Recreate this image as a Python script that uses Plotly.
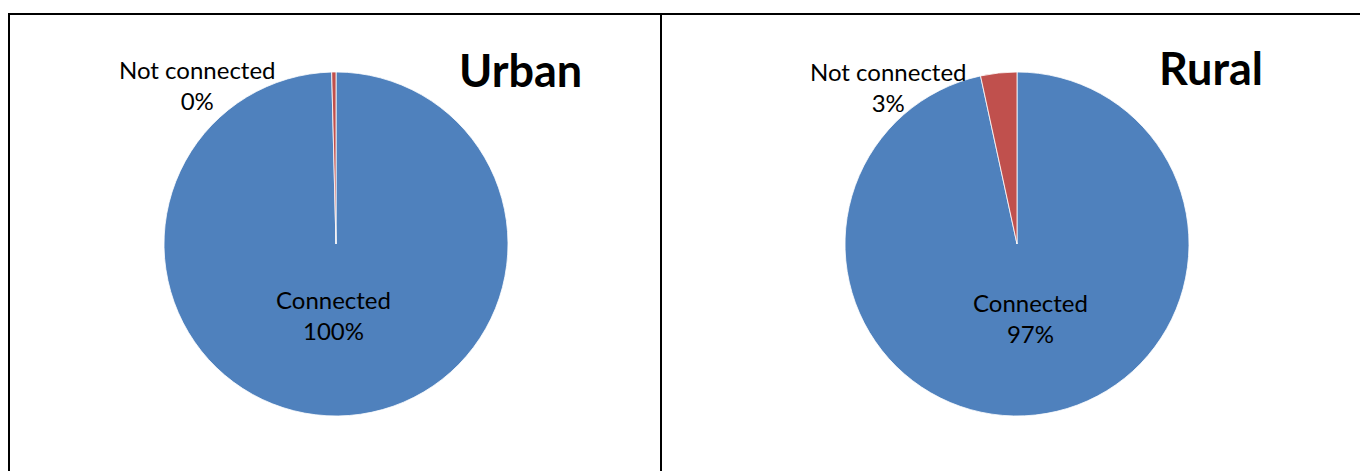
import plotly.graph_objects as go

W, H = 1360, 471

categories = ["Connected", "Not connected"]
urban_values = [99.6, 0.4]
rural_values = [96.6, 3.4]
chart_titles = ["Urban", "Rural"]

BLUE = "#4F81BD"
RED = "#C0504D"
FONT = "Lato"

def px(x):
    return x / W

def py(y):
    return 1 - y / H

fig = go.Figure()

pies = [
    dict(values=urban_values, cx=336, cy=244, r=172),
    dict(values=rural_values, cx=1017, cy=244, r=172),
]
for p in pies:
    fig.add_trace(go.Pie(
        labels=categories, values=p["values"], sort=False,
        direction="clockwise", rotation=0,
        marker=dict(colors=[BLUE, RED], line=dict(color="white", width=0.8)),
        textinfo="none", hoverinfo="label+percent", showlegend=False,
        domain=dict(x=[px(p["cx"] - p["r"]), px(p["cx"] + p["r"])],
                    y=[py(p["cy"] + p["r"]), py(p["cy"] - p["r"])]),
    ))

def pct(vals, i):
    return f"{round(vals[i] / sum(vals) * 100)}%"

label_pos = [
    dict(c=(333, 315), n=(197, 85), t=(520, 70)),
    dict(c=(1030, 318), n=(888, 87), t=(1211, 68)),
]
for vals, lp, title in zip([urban_values, rural_values], label_pos, chart_titles):
    fig.add_annotation(x=px(lp["c"][0]), y=py(lp["c"][1]), xref="paper", yref="paper",
                       xanchor="center", yanchor="middle",
                       text=f"{categories[0]}<br>{pct(vals, 0)}", showarrow=False,
                       font=dict(family=FONT, size=24, color="black"), align="center")
    fig.add_annotation(x=px(lp["n"][0]), y=py(lp["n"][1]), xref="paper", yref="paper",
                       xanchor="center", yanchor="middle",
                       text=f"{categories[1]}<br>{pct(vals, 1)}", showarrow=False,
                       font=dict(family=FONT, size=24, color="black"), align="center")
    fig.add_annotation(x=px(lp["t"][0]), y=py(lp["t"][1]), xref="paper", yref="paper",
                       xanchor="center", yanchor="middle",
                       text=f"<b>{title}</b>", showarrow=False,
                       font=dict(family=FONT, size=45, color="black"))

line = dict(color="black", width=2)
fig.add_shape(type="line", xref="paper", yref="paper", x0=px(8), x1=1, y0=py(14), y1=py(14), line=line)
fig.add_shape(type="line", xref="paper", yref="paper", x0=px(9), x1=px(9), y0=py(14), y1=0, line=line)
fig.add_shape(type="line", xref="paper", yref="paper", x0=px(661), x1=px(661), y0=py(14), y1=0, line=line)

fig.update_layout(width=W, height=H, margin=dict(l=0, r=0, t=0, b=0),
                  paper_bgcolor="white", plot_bgcolor="white")
fig.write_html("out.html")
